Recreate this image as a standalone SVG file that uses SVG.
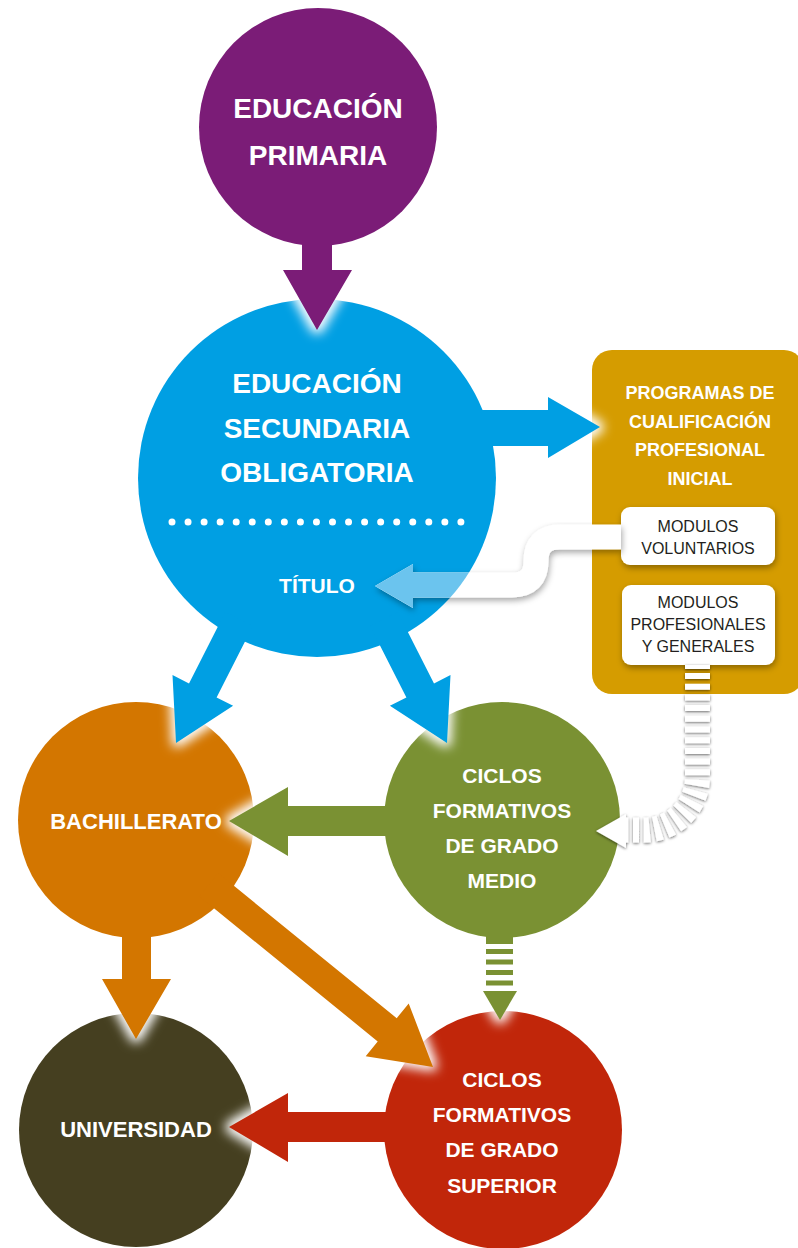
<svg xmlns="http://www.w3.org/2000/svg" width="798" height="1248" viewBox="0 0 798 1248">
<style>
.t{font-family:"Liberation Sans",Arial,sans-serif;font-weight:bold;fill:#fff;text-anchor:middle}
.m{font-family:"Liberation Sans",Arial,sans-serif;fill:#231f20;text-anchor:middle;font-size:16px}
</style>
<defs>
<filter id="glow" x="-60%" y="-60%" width="220%" height="220%"><feMorphology operator="dilate" radius="4"/><feGaussianBlur stdDeviation="5.5"/></filter>
<filter id="sh" x="-20%" y="-20%" width="140%" height="160%"><feDropShadow dx="1" dy="3" stdDeviation="3" flood-color="#000" flood-opacity="0.35"/></filter>
<filter id="sh2" x="-30%" y="-30%" width="160%" height="160%"><feDropShadow dx="0" dy="1" stdDeviation="1.5" flood-color="#000" flood-opacity="0.6"/></filter>
<clipPath id="blueClip"><circle cx="317" cy="478" r="179"/></clipPath>
</defs>

<g id="node-primaria">
<circle cx="318" cy="127" r="119" fill="#7B1C77"/>
<text class="t" x="318" y="118" font-size="28">EDUCACIÓN</text>
<text class="t" x="318" y="165" font-size="28">PRIMARIA</text>
</g>

<g id="node-eso">
<circle cx="317" cy="478" r="179" fill="#009FE3"/>
<text class="t" x="317" y="393" font-size="28">EDUCACIÓN</text>
<text class="t" x="317" y="438" font-size="28">SECUNDARIA</text>
<text class="t" x="317" y="482" font-size="28">OBLIGATORIA</text>
<line x1="172" y1="522" x2="461" y2="522" stroke="#fff" stroke-width="7" stroke-linecap="round" stroke-dasharray="0 16.05"/>
<text class="t" x="317" y="593" font-size="21">TÍTULO</text>
</g>

<g id="node-pcpi">
<rect x="592" y="350" width="212" height="344" rx="20" fill="#D59C00"/>
<text class="t" x="700" y="399" font-size="18">PROGRAMAS DE</text>
<text class="t" x="700" y="427.5" font-size="18">CUALIFICACIÓN</text>
<text class="t" x="700" y="456" font-size="18">PROFESIONAL</text>
<text class="t" x="700" y="484.5" font-size="18">INICIAL</text>
</g>

<g id="node-modulos-voluntarios">
<rect x="621" y="507" width="154" height="58" rx="9" fill="#fff" filter="url(#sh)"/>
<text class="m" x="698" y="532">MODULOS</text>
<text class="m" x="698" y="554">VOLUNTARIOS</text>
</g>

<g id="node-modulos-profesionales">
<rect x="622" y="585" width="153" height="80" rx="9" fill="#fff" filter="url(#sh)"/>
<text class="m" x="698" y="608">MODULOS</text>
<text class="m" x="698" y="630">PROFESIONALES</text>
<text class="m" x="698" y="652">Y GENERALES</text>
</g>

<g id="node-bachillerato">
<circle cx="136" cy="820" r="118" fill="#D37600"/>
<text class="t" x="136" y="829" font-size="22">BACHILLERATO</text>
</g>

<g id="node-cfgm">
<circle cx="502" cy="820" r="118" fill="#7A9133"/>
<text class="t" x="502" y="783" font-size="21">CICLOS</text>
<text class="t" x="502" y="818" font-size="21">FORMATIVOS</text>
<text class="t" x="502" y="853" font-size="21">DE GRADO</text>
<text class="t" x="502" y="888" font-size="21">MEDIO</text>
</g>

<g id="node-universidad">
<circle cx="136" cy="1130" r="117" fill="#453F20"/>
<text class="t" x="136" y="1137" font-size="22">UNIVERSIDAD</text>
</g>

<g id="node-cfgs">
<circle cx="503" cy="1130" r="119" fill="#C1260A"/>
<text class="t" x="502" y="1087" font-size="21">CICLOS</text>
<text class="t" x="502" y="1122" font-size="21">FORMATIVOS</text>
<text class="t" x="502" y="1157" font-size="21">DE GRADO</text>
<text class="t" x="502" y="1193" font-size="21">SUPERIOR</text>
</g>

<g id="connectors">
<g fill="#fff" filter="url(#glow)">
<polygon points="283,270 352,270 317,330"/>
<polygon points="548,397 548,458 600,427"/>
<polygon points="172.5,675 176,743 233.1,705.8"/>
<polygon points="450.5,675 447,743 389.9,705.8"/>
<polygon points="288,787 229,821 288,856"/>
<polygon points="288,1093 229,1127 288,1162"/>
<polygon points="102,979 136,1039 171,979"/>
<polygon points="408.7,1003.4 433,1067 365.7,1056.2"/>
<polygon points="483,991 517,991 500,1020"/>
</g>
<polygon fill="#7B1C77" points="302,230 332,230 332,270 352,270 317,330 283,270 302,270"/>
<polygon fill="#009FE3" points="480,410 548,410 548,397 600,427 548,458 548,446 480,446"/>
<polygon fill="#009FE3" points="225.3,612.1 189,683.4 172.5,675 176,743 233.1,705.8 216.6,697.4 252.9,626.1"/>
<polygon fill="#009FE3" points="397.7,612.1 434,683.4 450.5,675 447,743 389.9,705.8 406.4,697.4 370.1,626.1"/>
<polygon fill="#7A9133" points="395,806 288,806 288,787 229,821 288,856 288,836 395,836"/>
<polygon fill="#C1260A" points="395,1112 288,1112 288,1093 229,1127 288,1162 288,1142 395,1142"/>
<polygon fill="#D37600" points="122,920 122,979 102,979 136,1039 171,979 151,979 151,920"/>
<polygon fill="#D37600" points="218.2,873.1 396.7,1018.2 408.7,1003.4 433,1067 365.7,1056.2 377.7,1041.4 199.2,896.3"/>
<g fill="#7A9133">
<rect x="486" y="925" width="27" height="19"/>
<rect x="486" y="949" width="27" height="5"/>
<rect x="486" y="959.5" width="27" height="5"/>
<rect x="486" y="970" width="27" height="5"/>
<rect x="486" y="980.5" width="27" height="5"/>
<polygon points="483,991 517,991 500,1020"/>
</g>
<g filter="url(#sh)">
<path d="M621 537 H560 Q536 537 536 561 Q536 585 512 585 H410" fill="none" stroke="#fff" stroke-width="25"/>
<polygon fill="#fff" points="413,564 375,586 413,608"/>
</g>
<g clip-path="url(#blueClip)">
<path d="M621 537 H560 Q536 537 536 561 Q536 585 512 585 H410" fill="none" stroke="#6BC4EE" stroke-width="25"/>
<polygon fill="#6BC4EE" points="413,564 375,586 413,608"/>
</g>
<g filter="url(#sh2)">
<rect x="685" y="665" width="25" height="4" fill="#fff"/>
<path d="M697.5 673 V777 A53 53 0 0 1 644.5 830 H626" fill="none" stroke="#fff" stroke-width="25" stroke-dasharray="6 4.7"/>
<polygon fill="#fff" points="626,814 626,848 596,831"/>
</g>
</g>
</svg>
